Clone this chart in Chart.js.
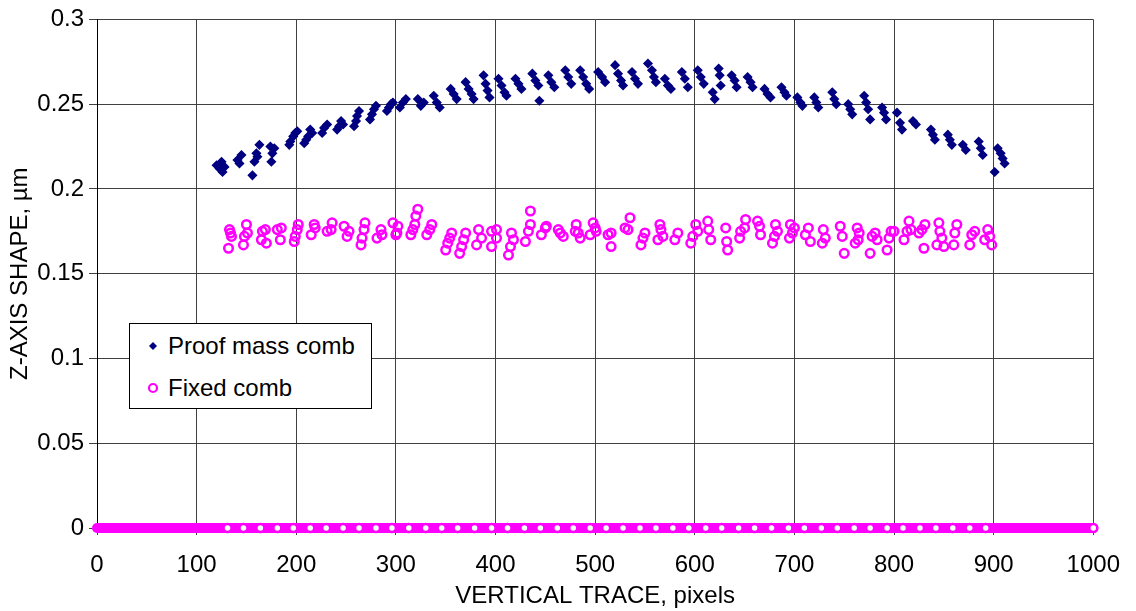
<!DOCTYPE html>
<html>
<head>
<meta charset="utf-8">
<script src="https://cdn.jsdelivr.net/npm/chart.js@4/dist/chart.umd.min.js"></script>
<style>
  body { margin: 0; background: #fff; }
  #wrap { position: relative; width: 1136px; height: 611px; }
  #legend {
    position: absolute; left: 129px; top: 323px; width: 241px; height: 84px;
    border: 1px solid #000; background: #fff;
    font-family: "Liberation Sans", Arial, sans-serif; font-size: 24px; color: #000;
  }
  .item { position: absolute; left: 16px; height: 28px; line-height: 28px; white-space: nowrap; }
  .item svg { position: absolute; left: 0; top: 7px; }
  .item span { position: absolute; left: 22px; top: 0; }
</style>
</head>
<body>
<div id="wrap">
  <canvas id="myChart" width="1136" height="611"></canvas>
  <div id="legend">
    <div class="item" style="top:8px">
      <svg width="14" height="14"><polygon points="7,3 11,7 7,11 3,7" fill="#000080"/></svg>
      <span>Proof mass comb</span>
    </div>
    <div class="item" style="top:50px">
      <svg width="14" height="14"><circle cx="7" cy="7" r="4" fill="none" stroke="#ff00ff" stroke-width="2.2"/></svg>
      <span>Fixed comb</span>
    </div>
  </div>
</div>
<script>
// Proof mass comb (x = pixel, y = um)
var proofX = [120,123,125,126,128, 141,143,145, 156,158,160,161,163, 174,175,176,178,
  193,194,197,199,201, 208,210,212,214,216, 226,228,231, 241,243,245,247,
  258,260,261,263, 274,276,278,280, 291,293,295,297, 304,307,310, 322,325,328,
  338,341,344, 355,358,361, 370,373,376,378, 388,390,392,394, 403,406,409,411,
  420,423,426, 437,440,443,444, 453,456,459, 470,473,476, 485,488,491,494,
  503,507,510, 520,523,526,528, 537,540,543, 553,557,559,561, 570,573,576,
  587,590,593, 603,606,609, 618,620,624,625,626, 637,640,642, 653,656,658,
  670,673,676, 687,690,692, 703,706,708, 720,722,724, 738,740,742, 754,756,758,
  770,772,774,776, 788,790,792, 803,806,808, 819,822, 837,839,841, 854,856,858,
  869,872, 885,887,889, 901,904,907,909,911];
var proofY = [0.214,0.212,0.216,0.210,0.213, 0.217,0.215,0.220, 0.208,0.216,0.221,0.219,0.226, 0.225,0.216,0.221,0.224,
  0.226,0.228,0.231,0.233,0.234, 0.227,0.229,0.231,0.235,0.233, 0.233,0.236,0.238, 0.235,0.237,0.240,0.238,
  0.237,0.240,0.243,0.246, 0.241,0.244,0.247,0.249, 0.246,0.248,0.250,0.251, 0.248,0.251,0.253, 0.253,0.249,0.251,
  0.255,0.251,0.248, 0.259,0.256,0.253, 0.263,0.259,0.256,0.253, 0.267,0.262,0.258,0.254, 0.265,0.261,0.257,0.255,
  0.265,0.262,0.259, 0.268,0.264,0.261,0.252, 0.267,0.263,0.260, 0.270,0.266,0.262, 0.270,0.266,0.262,0.259,
  0.269,0.266,0.263, 0.273,0.268,0.264,0.261, 0.269,0.265,0.262, 0.274,0.270,0.266,0.263, 0.265,0.261,0.259,
  0.269,0.265,0.260, 0.270,0.266,0.262, 0.257,0.253,0.271,0.267,0.261, 0.267,0.264,0.260, 0.266,0.263,0.260,
  0.259,0.256,0.254, 0.260,0.257,0.255, 0.254,0.251,0.249, 0.254,0.251,0.248, 0.257,0.253,0.250, 0.250,0.247,0.244,
  0.255,0.251,0.247,0.241, 0.248,0.245,0.241, 0.245,0.239,0.235, 0.240,0.238, 0.235,0.232,0.229, 0.232,0.229,0.226,
  0.226,0.223, 0.228,0.224,0.220, 0.210,0.224,0.221,0.218,0.215];

// Fixed comb
var fixedX = [132,133,134,135, 147,148,150,151, 165,166,169,170, 181,184,185, 198,199,201,202,
  215,218,219, 231,235,236, 248,251,253, 265,266,268,269, 281,285,286, 297,300,301,302,
  315,317,319,320,322, 331,334,336, 350,352,354,356, 364,366,368,370, 381,383,386,
  396,396,401,401, 413,415,416,418, 430,433,435,435, 446,450,451, 463,465,468,
  480,481,483,485, 495,498,500,501, 513,516,516, 530,533,535, 546,548,550,
  563,565,566,568, 580,583, 596,598,601,603, 613,614,616, 631,632,633,
  645,646,650,651, 663,665,666, 678,680,681,683, 695,696,698,700, 711,714,716,
  728,729,731, 746,748,750, 761,763,764,765, 776,778,781,783, 793,795,797,800,
  810,813,815,817, 825,828,830,831, 843,845,846,848,850, 860,861,863, 876,878,881,
  891,894,896,898];
var fixedY = [0.165,0.176,0.174,0.172, 0.167,0.172,0.179,0.174, 0.170,0.175,0.176,0.168, 0.176,0.170,0.177, 0.169,0.172,0.176,0.179,
  0.173,0.179,0.177, 0.175,0.176,0.180, 0.178,0.172,0.175, 0.167,0.171,0.176,0.180, 0.171,0.176,0.173, 0.180,0.173,0.174,0.178,
  0.173,0.176,0.179,0.184,0.188, 0.173,0.176,0.179, 0.164,0.168,0.171,0.174, 0.162,0.166,0.170,0.174, 0.167,0.176,0.171,
  0.166,0.175,0.176,0.171, 0.161,0.166,0.174,0.170, 0.169,0.175,0.179,0.187, 0.173,0.177,0.178, 0.176,0.174,0.172,
  0.175,0.179,0.174,0.171, 0.173,0.180,0.177,0.175, 0.173,0.174,0.166, 0.177,0.176,0.183, 0.167,0.171,0.174,
  0.170,0.179,0.176,0.172, 0.170,0.174, 0.168,0.172,0.179,0.175, 0.181,0.176,0.170, 0.177,0.169,0.164,
  0.171,0.175,0.177,0.182, 0.181,0.178,0.173, 0.168,0.172,0.179,0.175, 0.171,0.179,0.174,0.177, 0.173,0.177,0.169,
  0.168,0.176,0.171, 0.178,0.172,0.162, 0.168,0.177,0.170,0.174, 0.162,0.172,0.174,0.170, 0.164,0.171,0.175,0.175,
  0.170,0.175,0.181,0.176, 0.174,0.176,0.165,0.179, 0.167,0.180,0.175,0.171,0.166, 0.167,0.174,0.179, 0.167,0.173,0.175,
  0.170,0.176,0.172,0.167];

// zero padded points along the axis
var zeroX = [131,147,164,181,197,214,230,247,263,280,296,313,330,346,362,379,396,412,429,445,
  462,478,495,511,528,545,561,578,594,611,627,644,660,677,694,710,727,743,760,776,
  793,809,826,842,859,876,892,1000];
var zeroBandX = [0, 1000];

var xTicks = [0, 100, 200, 300, 400, 500, 600, 700, 800, 900, 1000];
var yTicks = [0, 0.05, 0.1, 0.15, 0.2, 0.25, 0.3];

function pairs(xs, ys) {
  var out = [];
  for (var i = 0; i < xs.length; i++) out.push({ x: xs[i], y: ys[i] });
  return out;
}

var fnt = { family: "'Liberation Sans', Arial, sans-serif", size: 24 };

var ctx = document.getElementById("myChart").getContext("2d");
var myChart = new Chart(ctx, {
  type: "scatter",
  data: {
    datasets: [
      {
        label: "Proof mass comb",
        data: pairs(proofX, proofY),
        pointStyle: "rectRot",
        pointRadius: 4,
        borderWidth: 1.5,
        backgroundColor: "#000080",
        borderColor: "#000080",
      },
      {
        label: "Fixed comb",
        data: pairs(fixedX, fixedY),
        pointStyle: "circle",
        pointRadius: 4.3,
        borderWidth: 2.5,
        backgroundColor: "rgba(0,0,0,0)",
        borderColor: "#ff00ff",
      },
      {
        label: "zeros",
        data: zeroX.map(function (v) { return { x: v, y: 0 }; }),
        pointRadius: 4,
        borderWidth: 2.5,
        backgroundColor: "#ffffff",
        borderColor: "#ff00ff",
        clip: false,
      },
      {
        label: "zero band",
        type: "line",
        data: zeroBandX.map(function (v) { return { x: v, y: 0 }; }),
        borderColor: "#ff00ff",
        borderWidth: 10,
        borderCapStyle: "round",
        pointRadius: 0,
        fill: false,
        clip: false,
      },
    ],
  },
  options: {
    responsive: false,
    animation: false,
    layout: { padding: { top: 17, right: 38, left: 0, bottom: 0 } },
    plugins: { legend: { display: false }, tooltip: { enabled: false } },
    scales: {
      x: {
        type: "linear",
        min: 0,
        max: 1000,
        afterBuildTicks: function (s) { s.ticks = xTicks.map(function (v) { return { value: v }; }); },
        afterFit: function (s) { s.height = 83; },
        ticks: {
          color: "#000",
          font: fnt,
          padding: 16,
          maxRotation: 0,
          callback: function (v) { return String(v); },
        },
        grid: { color: "#404040", lineWidth: 1, tickLength: 7 },
        border: { color: "#000", width: 1 },
        title: { display: true, text: "VERTICAL TRACE, pixels", color: "#000", font: fnt, padding: { top: 0, bottom: 0 } },
      },
      y: {
        min: 0,
        max: 0.3,
        afterBuildTicks: function (s) { s.ticks = yTicks.map(function (v) { return { value: v }; }); },
        afterFit: function (s) { s.width = 97; },
        ticks: {
          color: "#000",
          font: fnt,
          padding: 5,
          callback: function (v) { return String(+v.toFixed(2)); },
        },
        grid: { color: "#404040", lineWidth: 1, tickLength: 8 },
        border: { color: "#000", width: 1 },
        title: { display: true, text: "Z-AXIS SHAPE, µm", color: "#000", font: fnt, padding: { top: 6, bottom: 0 } },
      },
    },
  },
});
</script>
</body>
</html>
